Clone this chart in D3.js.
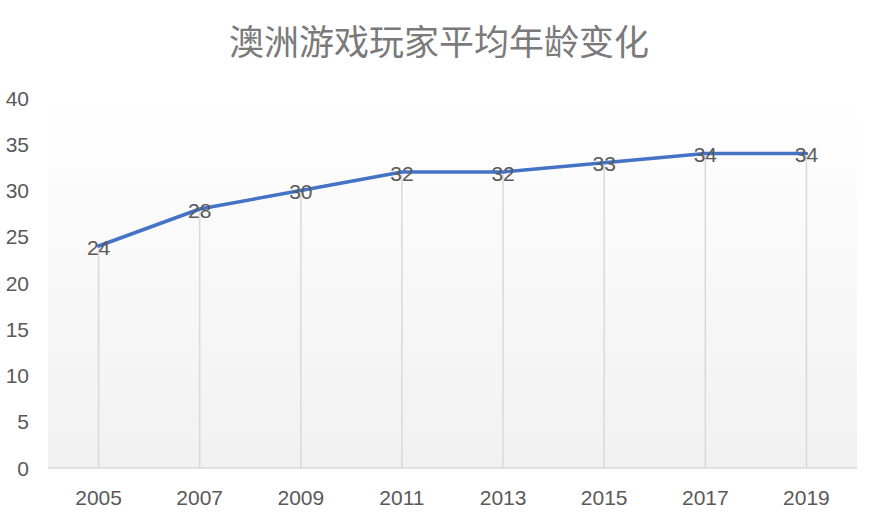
<!DOCTYPE html>
<html>
<head>
<meta charset="utf-8">
<script src="https://cdn.jsdelivr.net/npm/d3@7"></script>
<style>
  body { margin: 0; background: #fff; }
  svg { display: block; }
</style>
</head>
<body>
<div id="chart"></div>
<script>
var years = ['2005', '2007', '2009', '2011', '2013', '2015', '2017', '2019'];
var ages = [24, 28, 30, 32, 32, 33, 34, 34];
var yTicks = [0, 5, 10, 15, 20, 25, 30, 35, 40];
var title = '澳洲游戏玩家平均年龄变化';

var width = 880, height = 516;
var plot = { left: 48, right: 857, top: 98, bottom: 468 };
var numFont = '"Liberation Sans", Arial, sans-serif';

var svg = d3.select('#chart').append('svg').attr('width', width).attr('height', height);

var grad = svg.append('defs').append('linearGradient')
  .attr('id', 'bg').attr('x1', 0).attr('y1', 0).attr('x2', 0).attr('y2', 1);
grad.append('stop').attr('offset', '0%').attr('stop-color', '#ffffff');
grad.append('stop').attr('offset', '100%').attr('stop-color', '#f1f1f1');

var x = d3.scaleBand().domain(years).range([plot.left, plot.right]);
var y = d3.scaleLinear().domain([0, 40]).range([plot.bottom, plot.top]);
var cx = function(d) { return x(d) + x.bandwidth() / 2; };

svg.append('rect')
  .attr('x', plot.left).attr('y', plot.top - 10)
  .attr('width', plot.right - plot.left).attr('height', plot.bottom - plot.top + 10)
  .attr('fill', 'url(#bg)');

svg.append('text')
  .attr('x', width / 2 - 1).attr('y', 39)
  .attr('text-anchor', 'middle').attr('dominant-baseline', 'central')
  .attr('font-family', '"Noto Sans CJK SC", sans-serif')
  .attr('font-size', 35).attr('fill', '#7a7a7a')
  .text(title);

// y axis labels
svg.append('g').selectAll('text').data(yTicks).enter().append('text')
  .attr('x', 29).attr('y', function(d) { return y(d); })
  .attr('text-anchor', 'end').attr('dominant-baseline', 'central')
  .attr('font-family', numFont)
  .attr('font-size', 21).attr('fill', '#595959')
  .text(function(d) { return d; });

// drop lines
svg.append('g').selectAll('line').data(years).enter().append('line')
  .attr('x1', cx).attr('x2', cx)
  .attr('y1', function(d, i) { return y(ages[i]); })
  .attr('y2', plot.bottom)
  .attr('stroke', '#d9d9d9').attr('stroke-width', 1.5);

// baseline
svg.append('line')
  .attr('x1', plot.left).attr('x2', plot.right)
  .attr('y1', plot.bottom).attr('y2', plot.bottom)
  .attr('stroke', '#d9d9d9').attr('stroke-width', 1.5);

// x labels
svg.append('g').selectAll('text').data(years).enter().append('text')
  .attr('x', cx).attr('y', 497)
  .attr('text-anchor', 'middle').attr('dominant-baseline', 'central')
  .attr('font-family', numFont)
  .attr('font-size', 21).attr('fill', '#595959')
  .text(function(d) { return d; });

var line = d3.line()
  .x(function(d, i) { return cx(years[i]); })
  .y(function(d) { return y(d); });

svg.append('path').datum(ages)
  .attr('d', line).attr('fill', 'none')
  .attr('stroke', '#4472c4').attr('stroke-width', 3.5)
  .attr('stroke-linejoin', 'round').attr('stroke-linecap', 'round');

// data labels
svg.append('g').selectAll('text').data(ages).enter().append('text')
  .attr('x', function(d, i) { return cx(years[i]); })
  .attr('y', function(d) { return y(d) + 1; })
  .attr('text-anchor', 'middle').attr('dominant-baseline', 'central')
  .attr('font-family', numFont)
  .attr('font-size', 21).attr('fill', '#595959')
  .text(function(d) { return d; });
</script>
</body>
</html>
